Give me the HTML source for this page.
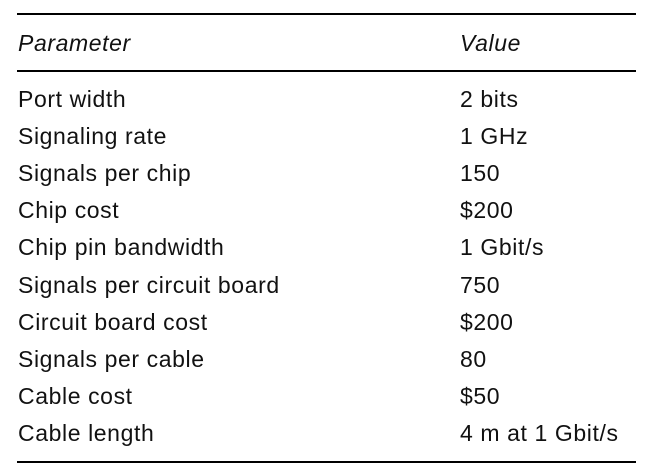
<!DOCTYPE html>
<html><head><style>
body{margin:0;width:651px;height:474px;background:#fff;position:relative;font-family:"Liberation Sans",sans-serif;color:#111;overflow:hidden}
.l{position:absolute;left:17px;width:619px;height:2px;background:#000}
.t{position:absolute;font-size:23px;line-height:26px;white-space:nowrap;letter-spacing:0.6px}
</style></head><body>
<div class="l" style="top:13px"></div>
<div class="l" style="top:70px"></div>
<div class="l" style="top:461px"></div>
<div class="t" style="left:18px;top:30px;font-style:italic">Parameter</div>
<div class="t" style="left:460px;top:30px;font-style:italic">Value</div>
<div class="t" style="left:18px;top:86px">Port width</div><div class="t" style="left:460px;top:86px">2 bits</div>
<div class="t" style="left:18px;top:123px">Signaling rate</div><div class="t" style="left:460px;top:123px">1 GHz</div>
<div class="t" style="left:18px;top:160px">Signals per chip</div><div class="t" style="left:460px;top:160px">150</div>
<div class="t" style="left:18px;top:197px">Chip cost</div><div class="t" style="left:460px;top:197px">$200</div>
<div class="t" style="left:18px;top:234px">Chip pin bandwidth</div><div class="t" style="left:460px;top:234px">1 Gbit/s</div>
<div class="t" style="left:18px;top:272px">Signals per circuit board</div><div class="t" style="left:460px;top:272px">750</div>
<div class="t" style="left:18px;top:309px">Circuit board cost</div><div class="t" style="left:460px;top:309px">$200</div>
<div class="t" style="left:18px;top:346px">Signals per cable</div><div class="t" style="left:460px;top:346px">80</div>
<div class="t" style="left:18px;top:383px">Cable cost</div><div class="t" style="left:460px;top:383px">$50</div>
<div class="t" style="left:18px;top:420px">Cable length</div><div class="t" style="left:460px;top:420px">4 m at 1 Gbit/s</div>
</body></html>
